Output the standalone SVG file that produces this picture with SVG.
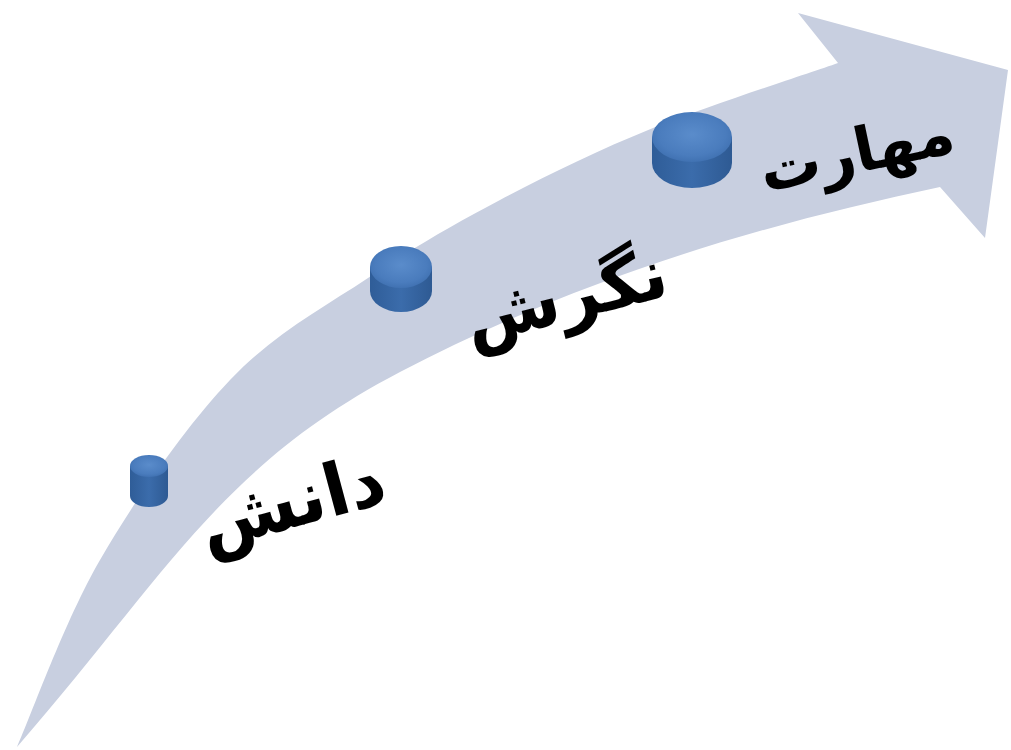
<svg xmlns="http://www.w3.org/2000/svg" width="1011" height="750" viewBox="0 0 1011 750">
<style>
.lbl{font-family:"DejaVu Sans","Noto Sans",sans-serif;font-weight:bold;fill:#000;text-anchor:middle}
.side{fill:url(#sideG)}
.top{fill:url(#topG)}
</style>
<defs>
<linearGradient id="sideG" x1="0" y1="0" x2="1" y2="0">
<stop offset="0" stop-color="#2f5d98"/>
<stop offset="0.5" stop-color="#3b6cab"/>
<stop offset="1" stop-color="#2e5a93"/>
</linearGradient>
<radialGradient id="topG" cx="0.5" cy="0.45" r="0.6">
<stop offset="0" stop-color="#5a8ccb"/>
<stop offset="0.7" stop-color="#4a7cbd"/>
<stop offset="1" stop-color="#3d6eae"/>
</radialGradient>
</defs>
<rect width="1011" height="750" fill="#fff"/>
<g id="connectors">
<path id="arrow" fill="#c8cfe0" d="M17,747 C31,716 64.5,621 100,560 C135.5,498.8 185.3,427 230,380 C274.7,333 323,308 368,278 C413,248 452.5,225 500,200 C547.5,175 596.7,150.8 653,128 C709.3,105.2 807,74 838,63 L798,13 L1008,70 L985,238 L940,187 C760,225 580,278 400,372 C220,466 167,574.5 17,747 Z"/>
</g>
<g id="node-danesh">
<path class="side" d="M130,466 L130,496 A19,11 0 0 0 168,496 L168,466 Z"/>
<ellipse class="top" cx="149" cy="466" rx="19" ry="11"/>
<text class="lbl" font-size="72" transform="translate(298,526) rotate(-15)">دانش</text>
</g>
<g id="node-negaresh">
<path class="side" d="M370,267 L370,291 A31,21 0 0 0 432,291 L432,267 Z"/>
<ellipse class="top" cx="401" cy="267" rx="31" ry="21"/>
<text class="lbl" font-size="70" transform="translate(571,320) rotate(-14)">نگرش</text>
</g>
<g id="node-maharat">
<path class="side" d="M652,137 L652,163 A40,25 0 0 0 732,163 L732,137 Z"/>
<ellipse class="top" cx="692" cy="137" rx="40" ry="25"/>
<text class="lbl" font-size="61" transform="translate(861,172) rotate(-12)">مهارت</text>
</g>
</svg>
